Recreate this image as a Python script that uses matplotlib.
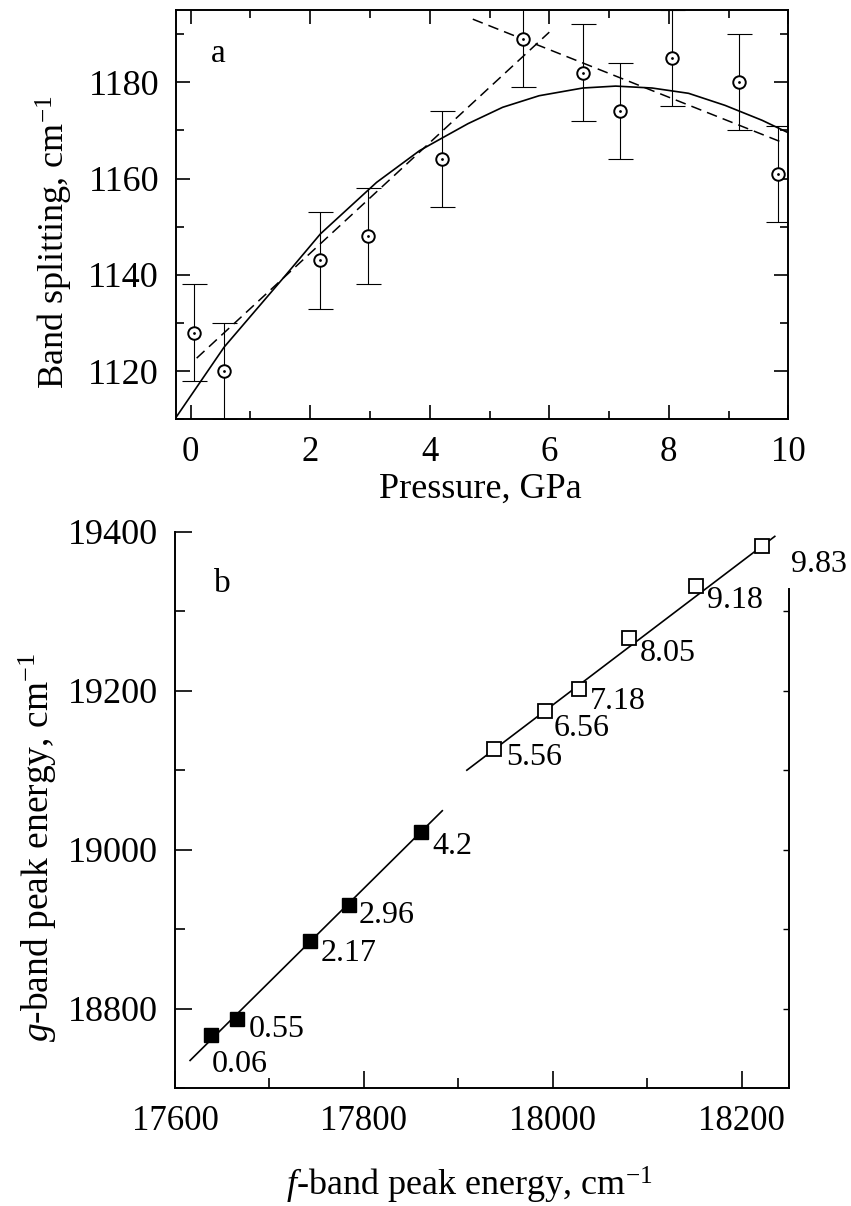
import matplotlib
matplotlib.use('Agg')
import matplotlib.pyplot as plt
from matplotlib.ticker import MultipleLocator

plt.rcParams['font.family'] = ['Liberation Serif', 'DejaVu Serif']
plt.rcParams['mathtext.fontset'] = 'custom'
plt.rcParams['mathtext.rm'] = 'Liberation Serif'
plt.rcParams['mathtext.it'] = 'Liberation Serif:italic'

# ---- panel a data: band splitting vs pressure
pressure = [0.06, 0.55, 2.17, 2.96, 4.2, 5.56, 6.56, 7.18, 8.05, 9.18, 9.83]
splitting = [1128, 1120, 1143, 1148, 1164, 1189, 1182, 1174, 1185, 1180, 1161]
split_err = [10, 10, 10, 10, 10, 10, 10, 10, 10, 10, 10]

# solid fit curve
fit_p = [-0.24, 0.56, 1.56, 2.17, 3.11, 3.83, 4.19, 4.64, 5.22, 5.83, 6.56,
         7.11, 7.72, 8.33, 8.94, 9.56, 10.0]
fit_s = [1110.5, 1125.0, 1139.5, 1148.5, 1159.2, 1165.8, 1168.3, 1171.4,
         1174.8, 1177.2, 1178.8, 1179.2, 1178.8, 1177.7, 1175.2, 1172.1, 1169.5]

# dashed linear fits
low_p = [0.1, 6.0]
low_s = [1122.7, 1190.4]
high_p = [4.72, 9.92]
high_s = [1193.1, 1167.4]

# ---- panel b data: g-band vs f-band peak energy
f_energy = [17638.6, 17666.2, 17743.1, 17783.8, 17860.9,
            17937.7, 17991.8, 18027.9, 18081.0, 18152.0, 18221.0]
g_energy = [18766.5, 18786.6, 18884.8, 18930.9, 19022.8,
            19126.9, 19174.0, 19202.0, 19266.0, 19331.7, 19382.0]
point_labels = ['0.06', '0.55', '2.17', '2.96', '4.2',
                '5.56', '6.56', '7.18', '8.05', '9.18', '9.83']
n_low = 5  # first five points are filled squares

line1_f = [17616, 17883]
line1_g = [18735, 19049]
line2_f = [17909, 18235]
line2_g = [19100, 19394]

# label offsets (points) from marker to text baseline
lab_dx = [0, 7.9, 7.9, 7.2, 7.9, 8.6, 6.5, 7.9, 7.2, 7.9, 20.9]
lab_dy = [-26.6, -13, -14.4, -13, -15.8, -11.5, -18, -14.4, -16.6, -15.8, -18.7]

fig = plt.figure(figsize=(8.51, 12.06), dpi=100)

# ================= panel a
ax1 = fig.add_axes([0.2065, 0.6523, 0.7199, 0.3394])
ax1.errorbar(pressure, splitting, yerr=split_err, fmt='none', ecolor='black',
             elinewidth=0.8, capsize=9, capthick=0.8, zorder=2)
ax1.plot(pressure, splitting, 'o', ms=9, mfc='white', mec='black', mew=1.4, zorder=3)
ax1.plot(pressure, splitting, '.', ms=2, color='black', zorder=4)
ax1.plot(fit_p, fit_s, '-', color='black', lw=1.2, zorder=1)
ax1.plot(low_p, low_s, color='black', lw=1.1, dashes=(7, 4), zorder=1)
ax1.plot(high_p, high_s, color='black', lw=1.1, dashes=(7, 4), zorder=1)

ax1.set_xlim(-0.25, 10)
ax1.set_ylim(1110, 1195)
ax1.xaxis.set_major_locator(MultipleLocator(2))
ax1.xaxis.set_minor_locator(MultipleLocator(1))
ax1.yaxis.set_minor_locator(MultipleLocator(10))
ax1.set_yticks([1120, 1140, 1160, 1180])
ax1.tick_params(which='both', direction='in', top=True, right=True,
                width=1.2, pad=12)
ax1.tick_params(axis='x', labelsize=25)
ax1.tick_params(axis='y', labelsize=26)
ax1.tick_params(which='major', length=10)
ax1.tick_params(which='minor', length=5.5)
ax1.set_xlabel('Pressure, GPa', fontsize=26)
ax1.xaxis.set_label_coords(0.497, -0.131)
ax1.set_ylabel(r'Band splitting, cm$^{-1}$', fontsize=26)
ax1.yaxis.set_label_coords(-0.165, 0.433)
ax1.text(0.069, 0.874, 'a', transform=ax1.transAxes, fontsize=24,
         ha='center', va='baseline')
for s in ax1.spines.values():
    s.set_linewidth(1.4)

# ================= panel b
ax2 = fig.add_axes([0.2056, 0.0976, 0.7215, 0.4616])
ax2.plot(line1_f, line1_g, '-', color='black', lw=1.2, zorder=1)
ax2.plot(line2_f, line2_g, '-', color='black', lw=1.2, zorder=1)
ax2.plot(f_energy[:n_low], g_energy[:n_low], 's', ms=10, mfc='black',
         mec='black', zorder=3)
ax2.plot(f_energy[n_low:], g_energy[n_low:], 's', ms=9.5, mfc='white',
         mec='black', mew=1.3, zorder=3)
for fx, gy, lab, dx, dy in zip(f_energy, g_energy, point_labels, lab_dx, lab_dy):
    ax2.annotate(lab, (fx, gy), xytext=(dx, dy), textcoords='offset points',
                 fontsize=23, ha='left', va='baseline', annotation_clip=False)

ax2.set_xlim(17600, 18250)
ax2.set_ylim(18700, 19400)
ax2.xaxis.set_major_locator(MultipleLocator(200))
ax2.xaxis.set_minor_locator(MultipleLocator(100))
ax2.yaxis.set_major_locator(MultipleLocator(200))
ax2.yaxis.set_minor_locator(MultipleLocator(100))
ax2.spines['top'].set_visible(False)
ax2.spines['right'].set_bounds(18700, 19328)
ax2.tick_params(which='both', direction='in', top=False, right=False,
                width=1.2, pad=12)
ax2.tick_params(axis='x', labelsize=25)
ax2.tick_params(axis='y', labelsize=26)
ax2.tick_params(which='major', length=12)
ax2.tick_params(which='minor', length=7)
ax2.set_xlabel(r'$f$-band peak energy, cm$^{-1}$', fontsize=26)
ax2.xaxis.set_label_coords(0.48, -0.137)
ax2.set_ylabel(r'$g$-band peak energy, cm$^{-1}$', fontsize=27)
ax2.yaxis.set_label_coords(-0.189, 0.433)
ax2.text(0.078, 0.892, 'b', transform=ax2.transAxes, fontsize=24,
         ha='center', va='baseline')
for s in ax2.spines.values():
    s.set_linewidth(1.4)

# short ticks on the right spine of panel b
for gv in [18800, 18900, 19000, 19100, 19200, 19300]:
    ax2.plot([18250], [gv], marker=0, ms=4, mew=1.0, color='black', clip_on=False)

fig.savefig('out.png', dpi=100)
